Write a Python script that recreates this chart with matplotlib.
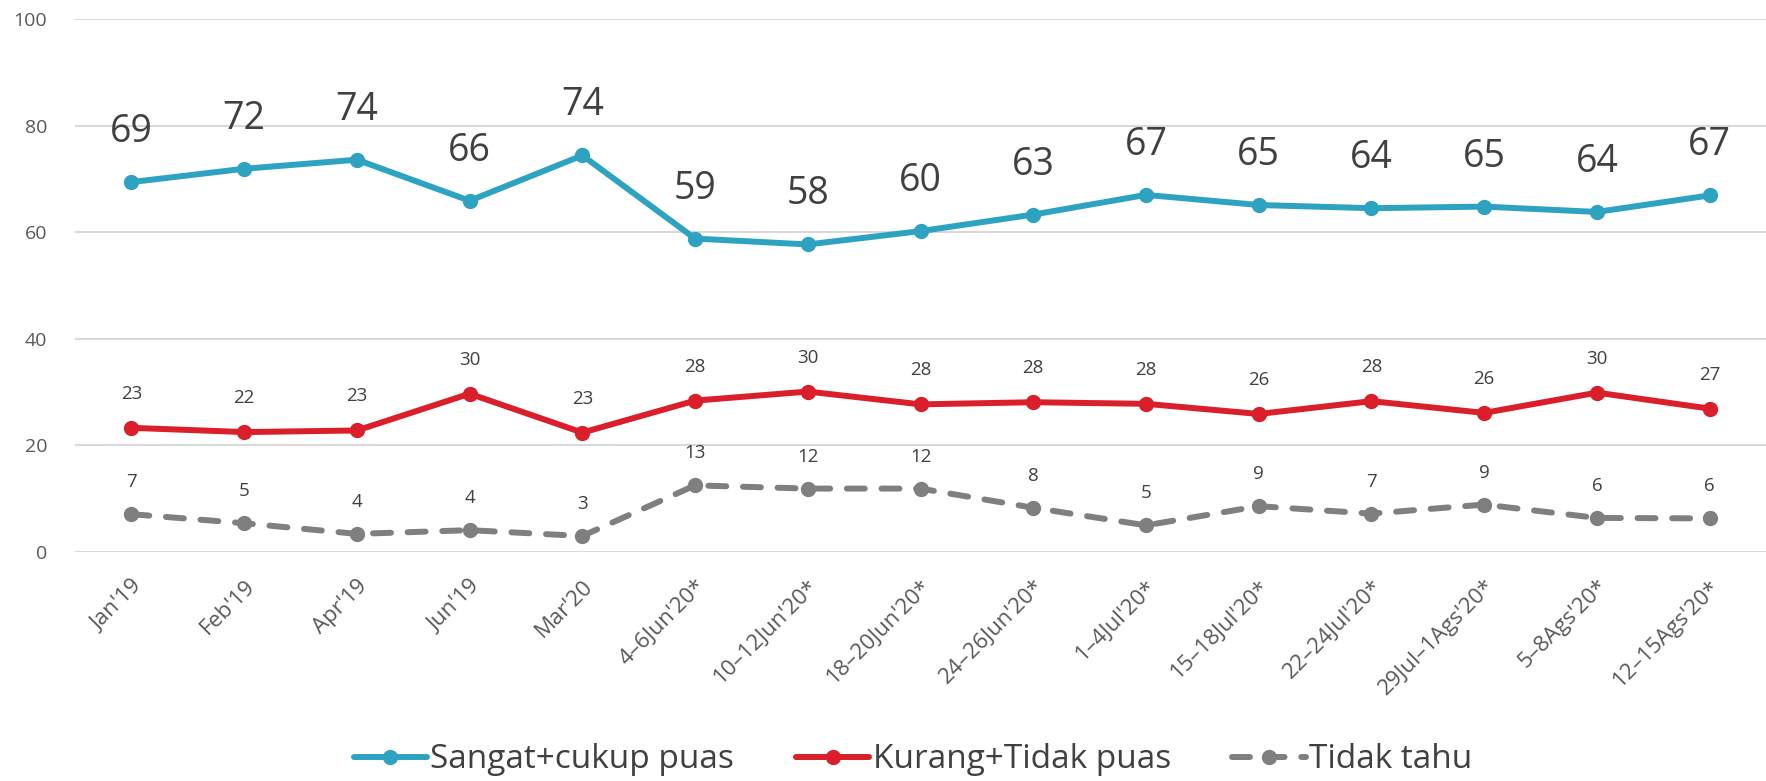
import matplotlib.pyplot as plt
import numpy as np

plt.rcParams['font.family'] = ['Open Sans', 'DejaVu Sans']

periods = ["Jan'19", "Feb'19", "Apr'19", "Jun'19", "Mar'20",
           "4–6Jun'20*", "10–12Jun'20*", "18–20Jun'20*", "24–26Jun'20*",
           "1–4Jul'20*", "15–18Jul'20*", "22–24Jul'20*", "29Jul–1Ags'20*",
           "5–8Ags'20*", "12–15Ags'20*"]

puas = [69.4, 71.9, 73.6, 65.9, 74.4, 58.8, 57.7, 60.2, 63.3, 67.0, 65.1, 64.5, 64.8, 63.8, 66.9]
puas_lbl = [69, 72, 74, 66, 74, 59, 58, 60, 63, 67, 65, 64, 65, 64, 67]

tidak_puas = [23.3, 22.5, 22.8, 29.7, 22.4, 28.4, 30.1, 27.7, 28.1, 27.8, 25.9, 28.3, 26.1, 29.9, 26.9]
tidak_puas_lbl = [23, 22, 23, 30, 23, 28, 30, 28, 28, 28, 26, 28, 26, 30, 27]

tidak_tahu = [7.1, 5.4, 3.4, 4.1, 3.0, 12.5, 11.9, 11.9, 8.3, 5.0, 8.6, 7.2, 8.9, 6.4, 6.3]
tidak_tahu_lbl = [7, 5, 4, 4, 3, 13, 12, 12, 8, 5, 9, 7, 9, 6, 6]

BLUE = '#2EA3C1'
RED = '#DA1F2B'
GRAY = '#7F7F7F'
TXT = '#404040'

fig = plt.figure(figsize=(17.66, 7.81), dpi=100)
ax = fig.add_axes([0.0425, 0.2932, 0.9575, 0.6825])

x = np.arange(len(periods))

ax.plot(x, puas, color=BLUE, lw=4.3, marker='o', ms=10, label='Sangat+cukup puas',
        solid_capstyle='round', zorder=3)
ax.plot(x, tidak_puas, color=RED, lw=4.3, marker='o', ms=10, label='Kurang+Tidak puas',
        solid_capstyle='round', zorder=3)
ax.plot(x, tidak_tahu, color=GRAY, lw=4.3, marker='o', ms=10, label='Tidak tahu',
        dashes=(3, 2.8), dash_capstyle='round', zorder=3)

# value labels above points
for xi, v, l in zip(x, puas, puas_lbl):
    ax.annotate(str(l), (xi, v), xytext=(0, 36), textcoords='offset points',
                ha='center', va='center', fontsize=27, color=TXT)
for xi, v, l in zip(x, tidak_puas, tidak_puas_lbl):
    ax.annotate(str(l), (xi, v), xytext=(0, 24.5), textcoords='offset points',
                ha='center', va='center', fontsize=13.5, color=TXT)
for xi, v, l in zip(x, tidak_tahu, tidak_tahu_lbl):
    ax.annotate(str(l), (xi, v), xytext=(0, 23), textcoords='offset points',
                ha='center', va='center', fontsize=13.5, color=TXT)

ax.set_xlim(-0.5, len(periods) - 0.5)
ax.set_ylim(0, 100)
ax.set_yticks(range(0, 101, 20))
ax.yaxis.grid(True, color='#D9D9D9', lw=1.5)
ax.set_axisbelow(True)
for s in ax.spines.values():
    s.set_visible(False)

ax.set_xticks(x)
ax.set_xticklabels(periods, rotation=45, ha='right', rotation_mode='anchor')
ax.tick_params(axis='both', length=0, labelsize=14, labelcolor='#595959')
ax.tick_params(axis='x', pad=17, labelsize=16)
ax.tick_params(axis='y', pad=20)

fig.legend(loc='center', bbox_to_anchor=(0.517, 0.027), ncol=3, frameon=False,
           fontsize=24, handlelength=2.2, handletextpad=0.1, columnspacing=1.85,
           labelcolor=TXT, borderpad=0)

fig.savefig('out.png', dpi=100)
